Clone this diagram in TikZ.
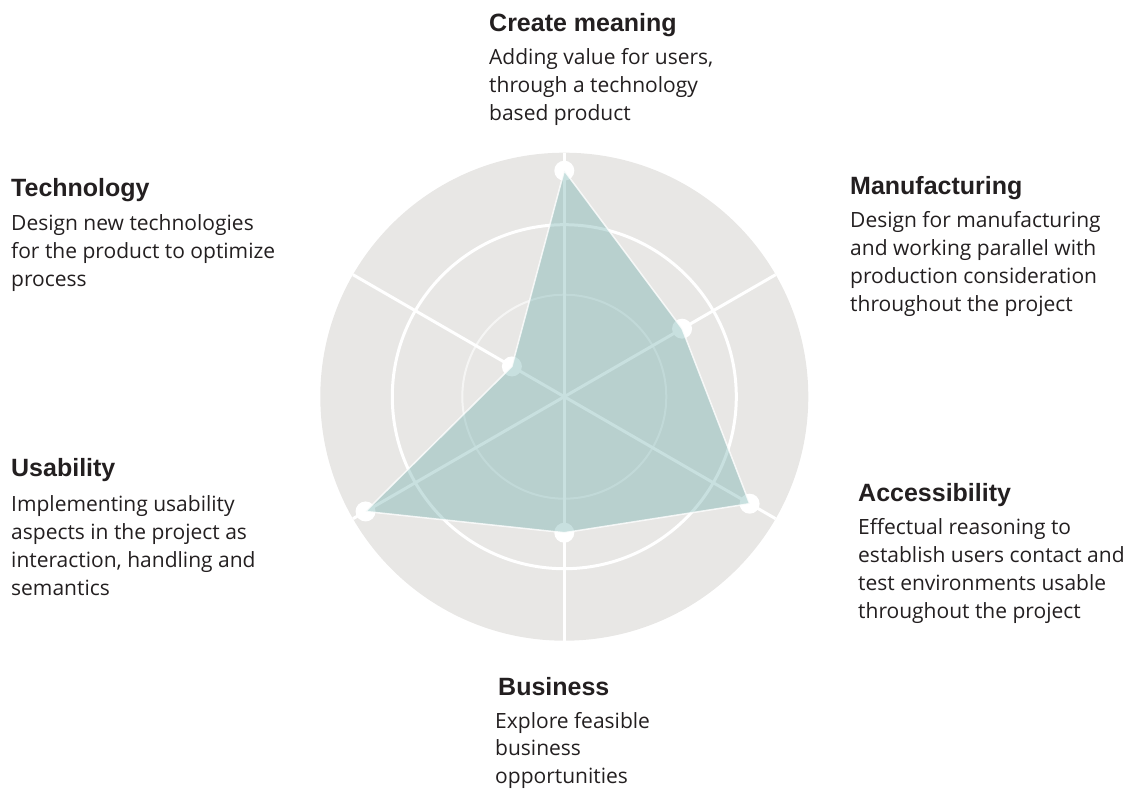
\documentclass[tikz,border=0pt]{standalone}
\usepackage{fontspec}
\setmainfont{Open Sans}
\newfontfamily\headfont{Liberation Sans}
\usetikzlibrary{positioning}
\definecolor{ringgray}{RGB}{232,231,229}
\definecolor{datateal}{RGB}{85,160,158}
\definecolor{inkblack}{RGB}{35,31,32}

\begin{document}
\begin{tikzpicture}[x=1pt,y=1pt,
    spoke/.style={white,line width=3pt},
    valdot/.style={circle,fill=white,inner sep=0pt,minimum size=20pt},
    heading/.style={anchor=base west,inner sep=0pt,text=inkblack,
      font=\headfont\bfseries\fontsize{25}{30}\selectfont},
    blurb/.style={inner sep=0pt,align=left,text=inkblack,
      font=\fontsize{21}{27.8}\selectfont}]
  \useasboundingbox (-564.3,-392.3) rectangle (580.7,396.7);
  \coordinate (c) at (0,0);
  \fill[ringgray] (c) circle (244);
  \draw[white,line width=3pt] (c) circle (172);
  \draw[white,opacity=0.6,line width=2pt] (c) circle (102);
  \foreach \a in {90,30,-30,-90,210,150}
    \draw[spoke] (c) -- (\a:244);
  \node[valdot] (meaning) at (90:226) {};
  \node[valdot] (manuf) at (30:136) {};
  \node[valdot] (access) at (-30:214) {};
  \node[valdot] (business) at (-90:136) {};
  \node[valdot] (usab) at (210:229.5) {};
  \node[valdot] (tech) at (150:60.5) {};
  \draw[fill=datateal,fill opacity=0.32,draw=white,draw opacity=0.8,line width=1.5pt,line join=round]
    (meaning.center) -- (manuf.center) -- (access.center) -- (business.center)
    -- (usab.center) -- (tech.center) -- cycle;
  % the base of a blurb is the baseline of its last line
  \node[heading] (meaninghead) at (-75.3,364.7) {Create meaning};
  \node[blurb,below=88.6pt of meaninghead.base west,anchor=base west] (meaningtext)
    {Adding value for users,\\through a technology\\based product};
  \node[heading] (techhead) at (-553.3,200.2) {Technology};
  \node[blurb,below=89.6pt of techhead.base west,anchor=base west] (techtext)
    {Design new technologies\\for the product to optimize\\process};
  \node[heading] (manufhead) at (285.7,201.7) {Manufacturing};
  \node[blurb,below=116.4pt of manufhead.base west,anchor=base west] (manuftext)
    {Design for manufacturing\\and working parallel with\\production consideration\\throughout the project};
  \node[heading] (accesshead) at (293.7,-105) {Accessibility};
  \node[blurb,below=116.4pt of accesshead.base west,anchor=base west] (accesstext)
    {Effectual reasoning to\\establish users contact and\\test environments usable\\throughout the project};
  \node[heading] (usabhead) at (-553.3,-80) {Usability};
  \node[blurb,below=118.4pt of usabhead.base west,anchor=base west] (usabtext)
    {Implementing usability\\aspects in the project as\\interaction, handling and\\semantics};
  \node[heading] (businesshead) at (-66.3,-298.3) {Business};
  \node[blurb,below=88.6pt of businesshead.base west,anchor=base west,xshift=-3pt] (businesstext)
    {Explore feasible\\business\\opportunities};
\end{tikzpicture}
\end{document}
